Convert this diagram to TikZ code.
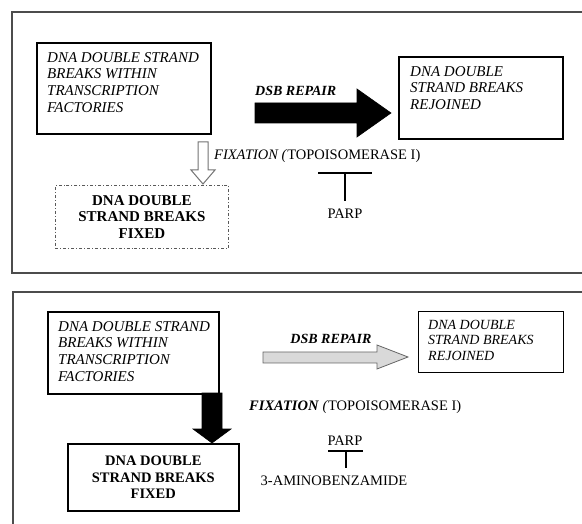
\documentclass[tikz,border=0pt]{standalone}
\usepackage{fontspec}
\setmainfont{Liberation Serif}
\begin{document}
\begin{tikzpicture}[x=1pt,y=-1pt,
  frame/.style={draw=black!70, line width=1.1pt},
  box/.style={draw=black, line width=1.6pt, anchor=north west, inner sep=0pt},
  itxt/.style={font=\fontsize{15}{16.7}\selectfont\itshape, align=left, anchor=north west, inner sep=0pt},
  btxt/.style={font=\fontsize{15}{16.7}\selectfont\bfseries, align=center, inner sep=0pt},
  rtxt/.style={font=\fontsize{14.5}{16}\selectfont, inner sep=0pt},
  lbl/.style={font=\fontsize{14}{16}\selectfont\bfseries\itshape, inner sep=0pt},
  inhib/.style={line width=2.4pt},
  solidarrow/.style={fill=black, draw=black, line width=0.6pt},
  openarrow/.style={fill=white, draw=black!55, line width=1pt},
  stipplearrow/.style={fill=black!15, draw=black!60, line width=0.8pt}
]
\useasboundingbox (0,0) rectangle (582,524);

% ---------- top panel ----------
\draw[frame] (582,12) -- (12,12) -- (12,273) -- (582,273);

\node[box, minimum width=174, minimum height=91] (A) at (36,42) {};
\node[itxt] (Atext) at ([shift={(11,10)}]A.north west)
  {DNA DOUBLE STRAND\\BREAKS WITHIN\\TRANSCRIPTION\\FACTORIES};

\node[box, minimum width=164, minimum height=82] (B) at (398,56) {};
\node[itxt] (Btext) at ([shift={(12,10)}]B.north west)
  {DNA DOUBLE\\STRAND BREAKS\\REJOINED};

\node[box, draw=black!65, line width=0.9pt, dash dot, minimum width=173, minimum height=63] (F1) at (55,185) {};
\node[btxt] (F1text) at (F1.center) {DNA DOUBLE\\STRAND BREAKS\\FIXED};

% DSB repair arrow (black)
\node[lbl, anchor=west] (rep1) at (255,91) {DSB REPAIR};
\draw[solidarrow] (255,103) -- (357,103) -- (357,89) -- (391,113) -- (357,137) -- (357,123) -- (255,123) -- cycle;

% fixation arrow (open)
\draw[openarrow] (198,142) -- (208,142) -- (208,170) -- (215,170) -- (203,184) -- (191,170) -- (198,170) -- cycle;
\node[rtxt, anchor=west, font=\fontsize{14.5}{16}\selectfont] (fix1) at (214,156) {\textit{FIXATION (}TOPOISOMERASE I)};

% PARP inhibition
\coordinate (p1l) at (318,173);
\coordinate (p1r) at (372,173);
\coordinate (p1m) at (345,173);
\node[rtxt] (parp1) at (345,214) {PARP};
\draw[inhib] (p1l) -- (p1r);
\draw[inhib] (p1m) -- (parp1.north |- 0,201);

% ---------- bottom panel ----------
\draw[frame] (582,292) -- (13,292) -- (13,524);

\node[box, minimum width=171, minimum height=82] (C) at (47,311) {};
\node[itxt] (Ctext) at ([shift={(11,10)}]C.north west)
  {DNA DOUBLE STRAND\\BREAKS WITHIN\\TRANSCRIPTION\\FACTORIES};

\node[box, minimum width=145, minimum height=61, line width=1.3pt] (E) at (418,311) {};
\node[itxt, font=\fontsize{14}{15.5}\selectfont\itshape] (Etext) at ([shift={(10,9)}]E.north west)
  {DNA DOUBLE\\STRAND BREAKS\\REJOINED};

\node[box, minimum width=171, minimum height=67] (D) at (67,443) {};
\node[btxt, font=\fontsize{14.5}{16.8}\selectfont\bfseries] (Dtext) at (D.center) {DNA DOUBLE\\STRAND BREAKS\\FIXED};

% DSB repair arrow (stippled)
\node[lbl] (rep2) at (331,339) {DSB REPAIR};
\draw[stipplearrow] (263,352) -- (377,352) -- (377,345) -- (408,357) -- (377,369) -- (377,363) -- (263,363) -- cycle;

% fixation arrow (black)
\draw[solidarrow] (202,393) -- (222,393) -- (222,429) -- (231,429) -- (212,443) -- (193,429) -- (202,429) -- cycle;
\node[rtxt, anchor=west] (fix2) at (249,407) {\textbf{\textit{FIXATION}} \textit{(}TOPOISOMERASE I)};

% PARP inhibited by 3-aminobenzamide
\node[rtxt] (parp2) at (345,441) {PARP};
\node[rtxt] (amb) at (334,481) {3-AMINOBENZAMIDE};
\coordinate (p2l) at (328,451);
\coordinate (p2r) at (363,451);
\coordinate (p2m) at (346,451);
\draw[inhib, line width=2pt] (p2l) -- (p2r);
\draw[inhib, line width=2pt] (p2m) -- (346,468);
\end{tikzpicture}
\end{document}
